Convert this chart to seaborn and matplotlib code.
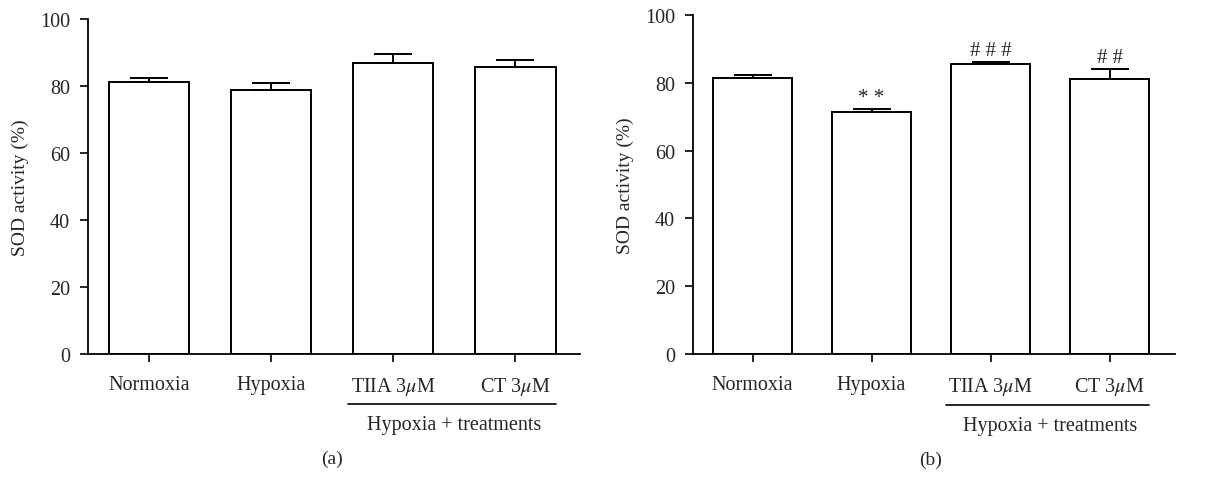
import matplotlib
matplotlib.use("Agg")
import matplotlib.pyplot as plt
import seaborn as sns
import pandas as pd

groups = ["Normoxia", "Hypoxia", "TIIA 3$\\mu$M", "CT 3$\\mu$M"]
sod_a = [81.3, 78.8, 86.8, 85.6]
err_a = [1.1, 2.2, 2.9, 2.3]
sod_b = [81.5, 71.3, 85.4, 81.0]
err_b = [0.9, 1.1, 0.8, 3.2]
marks_b = ["", "* *", "# # #", "# #"]
group_label = "Hypoxia + treatments"
y_label = "SOD activity (%)"
y_ticks = [0, 20, 40, 60, 80, 100]

sns.set_style("ticks")
plt.rcParams["font.family"] = ["Liberation Serif", "DejaVu Serif"]
plt.rcParams["mathtext.fontset"] = "stix"

fig = plt.figure(figsize=(12.1, 4.89), dpi=100)
ax_a = fig.add_axes([88 / 1210, 1 - 355 / 489, 492 / 1210, 335 / 489])
ax_b = fig.add_axes([693 / 1210, 1 - 355 / 489, 482 / 1210, 339 / 489])


def panel(ax, values, errors, marks, letter, xmax):
    df = pd.DataFrame({"group": groups, "sod": values})
    sns.barplot(data=df, x="group", y="sod", ax=ax, color="white",
                edgecolor="black", linewidth=1.4, width=0.66, errorbar=None)
    ax.errorbar(range(len(groups)), values, yerr=[[0] * len(errors), errors],
                fmt="none", ecolor="black", elinewidth=1.4, capsize=14, capthick=1.4)
    for i, m in enumerate(marks):
        if m:
            ax.text(i, values[i] + errors[i] + 0.6, m, ha="center", va="bottom",
                    fontsize=15, color="#222222")
    ax.set_xlim(-0.5, xmax)
    ax.set_ylim(0, 100)
    ax.set_yticks(y_ticks)
    ax.set_xlabel("")
    ax.set_ylabel(y_label, fontsize=14, labelpad=8)
    ax.tick_params(axis="both", labelsize=14.5, length=6, width=1.2, color="black")
    ax.tick_params(axis="x", pad=9)
    ax.tick_params(axis="y", pad=7)
    sns.despine(ax=ax)
    for s in ["left", "bottom"]:
        ax.spines[s].set_linewidth(1.3)
        ax.spines[s].set_color("black")
    # bracket for the treatment groups
    ax.plot([1.63, 3.33], [-15, -15], color="black", lw=1.2, clip_on=False)
    ax.text(2.5, -18.3, group_label, ha="center", va="top", fontsize=14.5)
    ax.text(1.5, -28.5, f"({letter})", ha="center", va="top", fontsize=14)


panel(ax_a, sod_a, err_a, [""] * 4, "a", 3.53)
panel(ax_b, sod_b, err_b, marks_b, "b", 3.55)

fig.savefig("out.png", dpi=100)
